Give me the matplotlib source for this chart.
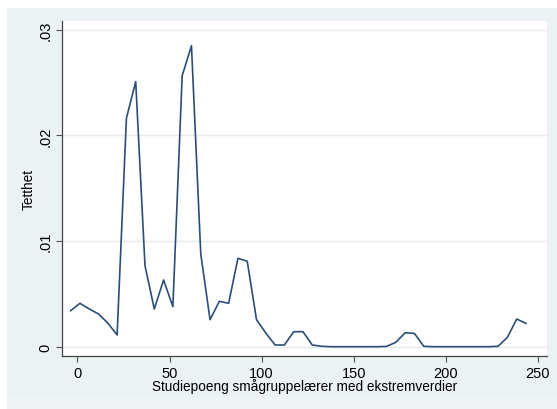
import numpy as np
import matplotlib.pyplot as plt
from matplotlib.patches import Rectangle

plt.rcParams['font.family'] = ['Liberation Sans', 'DejaVu Sans']

# kjernetetthet, 50 evalueringspunkter
x_start = -3.7
x_step = 5.045
tetthet = [
    0.00341, 0.00411, 0.00357, 0.00310, 0.00224, 0.00111, 0.02163, 0.02510,
    0.00767, 0.00357, 0.00632, 0.00379, 0.02566, 0.02850, 0.00878, 0.00256,
    0.00430, 0.00411, 0.00837, 0.00809, 0.00256, 0.00130, 0.00016, 0.00016,
    0.00142, 0.00142, 0.00016, 0.00004, 0.00000, 0.00000, 0.00000, 0.00000,
    0.00000, 0.00000, 0.00003, 0.00042, 0.00133, 0.00125, 0.00004, 0.00000,
    0.00000, 0.00000, 0.00000, 0.00000, 0.00000, 0.00000, 0.00004, 0.00089,
    0.00262, 0.00221,
]
poeng = x_start + x_step * np.arange(len(tetthet))

x_ticks = [0, 50, 100, 150, 200, 250]
y_ticks = [0, 0.01, 0.02, 0.03]
y_tick_labels = ['0', '.01', '.02', '.03']

fig = plt.figure(figsize=(5.57, 4.10), dpi=100)
fig.patch.set_facecolor('white')
# bakgrunn (graph region)
fig.patches.append(Rectangle((7 / 557, 0), 1, 1 - 9 / 410, transform=fig.transFigure,
                             facecolor='#eaf2f3', edgecolor='none', zorder=-2))
fig.patches.append(Rectangle((7 / 557, 0), 1, 12 / 410, transform=fig.transFigure,
                             facecolor='#eff3f4', edgecolor='none', zorder=-1))

ax = fig.add_axes([62 / 557, 53 / 410, 485 / 557, 335 / 410])
ax.set_facecolor('white')
ax.plot(poeng, tetthet, color='#2a4e78', linewidth=1.2)

ax.set_xlim(-8.4, 254.9)
ax.set_ylim(-0.00088, 0.03084)
ax.set_xticks(x_ticks)
ax.set_yticks(y_ticks)
ax.set_yticklabels(y_tick_labels, rotation=90, va='center')
ax.tick_params(axis='both', direction='out', length=4.5, width=0.8, color='#555555',
               labelsize=10.5, labelcolor='black', pad=2.5)
ax.grid(axis='y', color='#e4ebee', linewidth=1.0)
ax.set_axisbelow(True)

for s in ['top', 'right']:
    ax.spines[s].set_visible(False)
for s in ['left', 'bottom']:
    ax.spines[s].set_color('#444444')
    ax.spines[s].set_linewidth(0.9)

ax.set_xlabel('Studiepoeng smågruppelærer med ekstremverdier', fontsize=9.8, labelpad=-1)
ax.set_ylabel('Tetthet', fontsize=9.8, labelpad=2)

fig.savefig('out.png', dpi=100)
